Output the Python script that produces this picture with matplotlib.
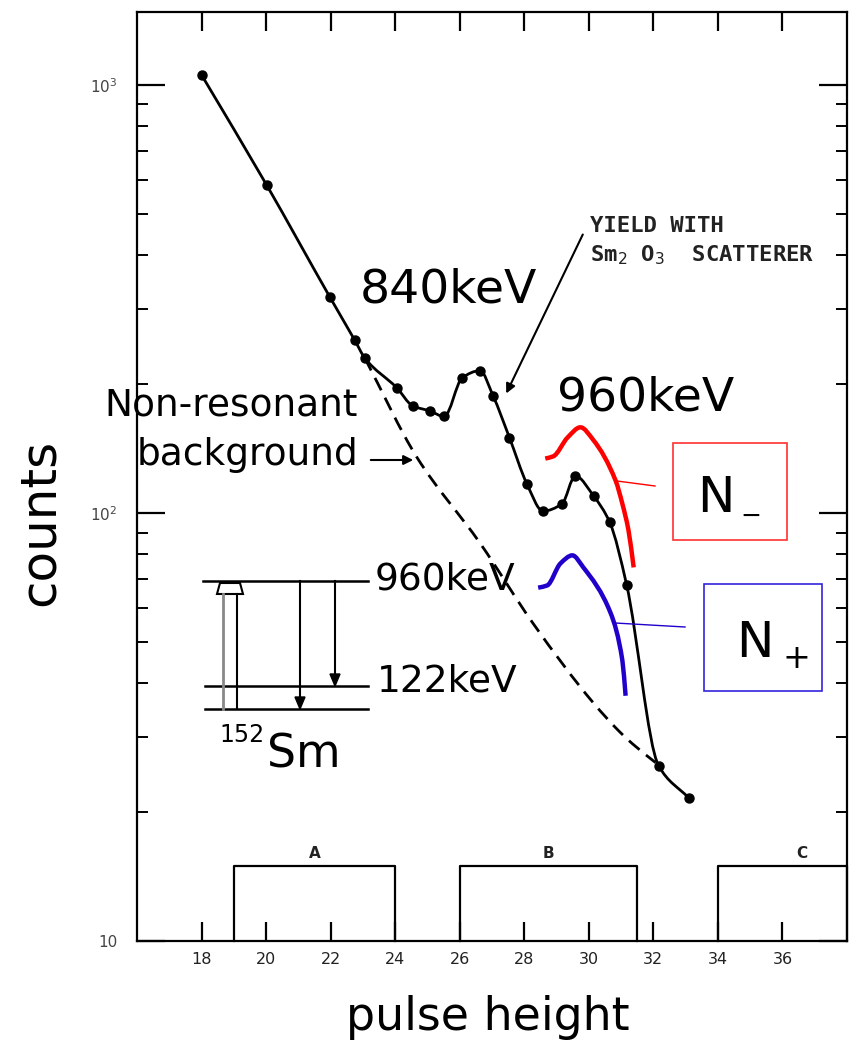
import matplotlib
matplotlib.use("Agg")
import numpy as np
import matplotlib.pyplot as plt
from matplotlib.patches import Rectangle, Polygon, PathPatch
from matplotlib.path import Path
from matplotlib.lines import Line2D
from matplotlib.ticker import FixedLocator, LogLocator, NullFormatter

# ---------------- data ----------------
pulse = [18.0, 20.02, 21.98, 22.75, 23.06, 24.05, 24.54, 25.08, 25.52, 26.08, 26.63,
         27.03, 27.54, 28.08, 28.58, 29.17, 29.58, 30.15, 30.65, 31.17, 32.16, 33.09]
counts = [1055, 583, 319, 253, 230, 196, 178, 173, 168, 207, 215,
          188, 150, 117, 101, 105, 122, 109.5, 95, 68, 25.7, 21.6]

bg_x = [23.06, 24.67, 26.63, 28.28, 30.14, 30.92, 31.35, 32.07]
bg_y = [230, 135, 85, 55.1, 36.0, 31.0, 28.9, 26.1]

nminus_x = [28.65, 28.90, 29.34, 29.74, 30.14, 30.83, 31.04, 31.23, 31.39]
nminus_y = [134, 135.6, 150, 158.5, 148, 119, 105, 91, 74.6]

nplus_x = [28.43, 28.71, 29.12, 29.49, 29.83, 30.67, 31.04, 31.14]
nplus_y = [66.9, 67.7, 76.2, 79.6, 74.6, 58.5, 45.2, 37.4]

bin_labels = ["A", "B", "C"]
bin_starts = [19, 26, 34]
bin_ends = [24, 31.5, 38]
bin_top = 15

xticks = [18, 20, 22, 24, 26, 28, 30, 32, 34, 36]
yticks = [10, 100, 1000]
ytick_labels = ["10", "10$^{2}$", "10$^{3}$"]

# ---------------- figure ----------------
W, H = 850, 1047
fig = plt.figure(figsize=(W / 100, H / 100), dpi=100)
plt.rcParams["font.family"] = ["DejaVu Sans"]


def P(x, y):
    return (x / W, 1 - y / H)


ax = fig.add_axes([137 / W, 1 - 941 / H, (847 - 137) / W, (941 - 12) / H])
ax.set_yscale("log")
ax.set_xlim(16, 38)
ax.set_ylim(10, 1480)

for s in ax.spines.values():
    s.set_linewidth(1.6)

ax.xaxis.set_major_locator(FixedLocator(xticks))
ax.set_xticklabels([str(t) for t in xticks], fontsize=11.5, color="#222")
ax.yaxis.set_major_locator(FixedLocator(yticks))
ax.set_yticklabels(ytick_labels, fontsize=11, color="#444")
ax.yaxis.set_minor_locator(LogLocator(base=10, subs=range(2, 10)))
ax.yaxis.set_minor_formatter(NullFormatter())
ax.tick_params(axis="x", which="major", direction="in", length=14, width=1.6,
               top=True, bottom=True, pad=8)
ax.tick_params(axis="y", which="major", direction="in", length=20, width=1.6,
               left=True, right=True, pad=14)
ax.tick_params(axis="y", which="minor", direction="in", length=8, width=1.4,
               left=True, right=True)


def smooth(xs, ys, **kw):
    """Monotone (PCHIP-style) smooth curve through the points, drawn as a Bezier path."""
    x = np.asarray(xs, float)
    y = np.log10(np.asarray(ys, float))
    h = np.diff(x)
    d = np.diff(y) / h
    n = len(x)
    m = np.zeros(n)
    for k in range(1, n - 1):
        if d[k - 1] * d[k] <= 0:
            m[k] = 0.0
        else:
            w1 = 2 * h[k] + h[k - 1]
            w2 = h[k] + 2 * h[k - 1]
            m[k] = (w1 + w2) / (w1 / d[k - 1] + w2 / d[k])
    m[0] = d[0]
    m[-1] = d[-1]
    verts = [(x[0], y[0])]
    codes = [Path.MOVETO]
    for k in range(n - 1):
        verts += [(x[k] + h[k] / 3, y[k] + m[k] * h[k] / 3),
                  (x[k + 1] - h[k] / 3, y[k + 1] - m[k + 1] * h[k] / 3),
                  (x[k + 1], y[k + 1])]
        codes += [Path.CURVE4] * 3
    v = np.array(verts)
    v[:, 1] = 10 ** v[:, 1]
    patch = PathPatch(Path(v, codes), fill=False, transform=ax.transData, **kw)
    ax.add_patch(patch)
    return patch


# main data curve
smooth(pulse, counts, edgecolor="black", lw=2, zorder=5)
ax.plot(pulse, counts, "o", color="black", ms=6.5, zorder=6)
# background
smooth(bg_x, bg_y, edgecolor="black", lw=2, linestyle=(0, (5, 3)), zorder=4)
# N- / N+ curves
smooth(nminus_x, nminus_y, edgecolor="#ff0000", lw=3.2, capstyle="butt", zorder=6)
smooth(nplus_x, nplus_y, edgecolor="#2200cc", lw=3.2, capstyle="butt", zorder=6)

# bins
for lab, x0, x1 in zip(bin_labels, bin_starts, bin_ends):
    ax.plot([x0, x0, x1, x1], [10, bin_top, bin_top, 10], color="black", lw=1.6,
            clip_on=False)
    ax.text((x0 + x1) / 2 if lab != "C" else 36.6, 16.0, lab,
            ha="center", va="center", fontsize=11, fontweight="bold", color="#222")

# axis labels
fig.text(*P(40, 522), "counts", rotation=90, ha="center", va="center", fontsize=36)
fig.text(*P(488, 1017), "pulse height", ha="center", va="center", fontsize=33)

# annotations
fig.text(*P(360, 290), "840keV", ha="left", va="center", fontsize=34)
fig.text(*P(557, 398), "960keV", ha="left", va="center", fontsize=34)
fig.text(*P(358, 405), "Non-resonant", ha="right", va="center", fontsize=27)
fig.text(*P(358, 455), "background", ha="right", va="center", fontsize=27)
ax.annotate("", xy=P(416, 460), xytext=P(368, 460), xycoords="figure fraction",
            textcoords="figure fraction",
            arrowprops=dict(arrowstyle="-|>", color="black", lw=1.5, mutation_scale=14))

fig.text(*P(590, 226), "YIELD WITH", ha="left", va="center", fontsize=16,
         family="DejaVu Sans Mono", fontweight="bold", color="#222")
fig.text(*P(590, 255), "Sm$_2$ O$_3$  SCATTERER", ha="left", va="center", fontsize=16,
         family="DejaVu Sans Mono", fontweight="bold", color="#222")
ax.annotate("", xy=P(505, 396), xytext=P(584, 232), xycoords="figure fraction",
            textcoords="figure fraction",
            arrowprops=dict(arrowstyle="-|>", color="black", lw=1.5, mutation_scale=14))

# N- box
fig.patches.append(Rectangle(P(673, 540), 114 / W, 97 / H, transform=fig.transFigure,
                             fill=False, edgecolor="#ff3030", lw=1.2))
fig.text(*P(697, 512), "N", ha="left", va="baseline", fontsize=36)
fig.text(*P(740, 516), "\u2212", ha="left", va="center", fontsize=18)
fig.lines.append(Line2D([617 / W, 655 / W], [1 - 481 / H, 1 - 486 / H],
                        transform=fig.transFigure, color="#ff0000", lw=1))
# N+ box
fig.patches.append(Rectangle(P(704, 691), 118 / W, 107 / H, transform=fig.transFigure,
                             fill=False, edgecolor="#3322dd", lw=1.2))
fig.text(*P(736, 657), "N", ha="left", va="baseline", fontsize=36)
fig.text(*P(783, 659), "+", ha="left", va="center", fontsize=24)
fig.lines.append(Line2D([615 / W, 685 / W], [1 - 623 / H, 1 - 627 / H],
                        transform=fig.transFigure, color="#2200cc", lw=1))


# level scheme
def fline(xs, ys, **kw):
    fig.lines.append(Line2D([x / W for x in xs], [1 - y / H for y in ys],
                            transform=fig.transFigure, **kw))


fline([203, 368], [581, 581], color="black", lw=1.8)
fline([205, 368], [686, 686], color="black", lw=1.8)
fline([205, 368], [709, 709], color="black", lw=1.8)
fline([223, 223], [709, 594], color="#888", lw=2)
fline([237, 237], [709, 594], color="black", lw=1.5)
fig.patches.append(Polygon([P(217, 594), P(220, 583), P(240, 583), P(243, 594)],
                           closed=True, transform=fig.transFigure, fill=False,
                           edgecolor="black", lw=1.5))
fline([300, 300], [581, 698], color="black", lw=1.5)
fig.patches.append(Polygon([P(295, 697), P(305, 697), P(300, 709)], closed=True,
                           transform=fig.transFigure, color="black"))
fline([335, 335], [581, 675], color="black", lw=1.5)
fig.patches.append(Polygon([P(330, 674), P(340, 674), P(335, 686)], closed=True,
                           transform=fig.transFigure, color="black"))
fig.text(*P(375, 580), "960keV", ha="left", va="center", fontsize=27)
fig.text(*P(377, 682), "122keV", ha="left", va="center", fontsize=27)
fig.text(*P(219, 742), "152", ha="left", va="baseline", fontsize=17)
fig.text(*P(267, 767), "Sm", ha="left", va="baseline", fontsize=33)

fig.savefig("out.png", dpi=100)
